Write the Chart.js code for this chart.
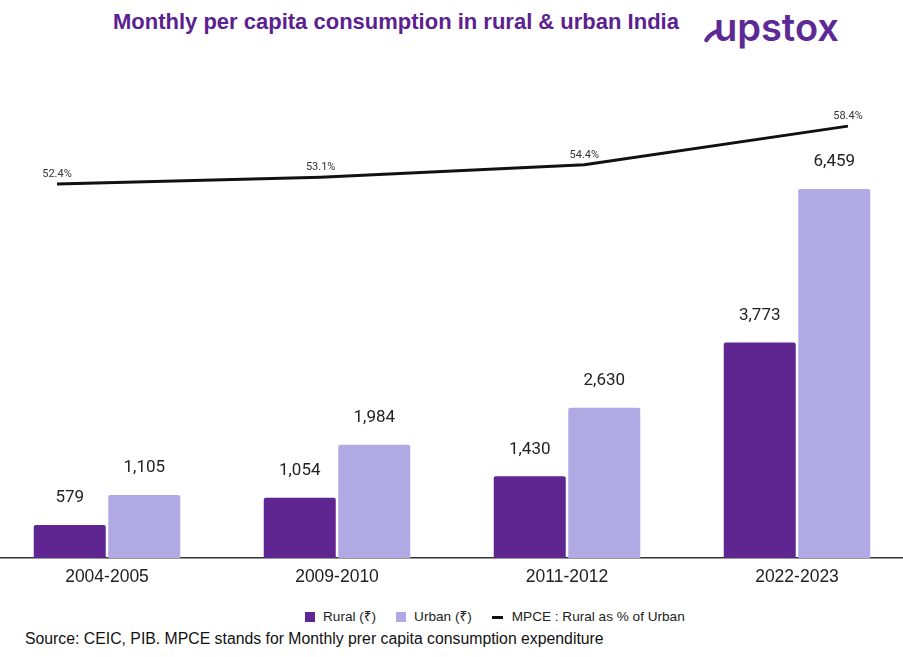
<!DOCTYPE html>
<html>
<head>
<meta charset="utf-8">
<script src="https://cdn.jsdelivr.net/npm/chart.js@4.4.1/dist/chart.umd.min.js"></script>
<style>
  html, body { margin:0; padding:0; background:#fff; width:903px; height:657px; overflow:hidden; position:relative; }
  .wrap { position:absolute; left:-8px; top:0; width:920px; }
  #title { position:absolute; left:113px; top:11px; font: bold 22px "Liberation Sans", Arial, sans-serif; line-height:22px; color:#5c2190; white-space:nowrap; }
  #logo { position:absolute; left:704px; top:5px; width:150px; height:56px; }
  #logo span { position:absolute; left:10px; top:0px; font: 600 38px "Inter", sans-serif; line-height:44px; color:#5d2a95; letter-spacing:0px; }
  #legend { position:absolute; left:305px; top:610px; display:flex; align-items:center; font: 13.6px "Liberation Sans", "Noto Sans", sans-serif; line-height:14px; color:#222; white-space:nowrap; }
  #legend .sw { width:10px; height:10px; margin-right:8px; }
  #legend .ln { width:11px; height:3px; background:#111; margin-right:9px; }
  #legend .item { display:flex; align-items:center; margin-right:20px; }
  #source { position:absolute; left:25px; top:631px; font: 15.8px "Liberation Sans", Arial, sans-serif; line-height:16px; color:#111; white-space:nowrap; }
</style>
</head>
<body>
<div id="title">Monthly per capita consumption in rural &amp; urban India</div>
<div id="logo">
  <svg width="20" height="56" style="position:absolute;left:0;top:0">
    <path d="M 2.5 35 Q 6 29 12.5 26.5" stroke="#5d2a95" stroke-width="4.4" fill="none" stroke-linecap="round"/>
  </svg>
  <span>upstox</span>
</div>
<div class="wrap" style="height:598px"><canvas id="bars" width="920" height="598"></canvas></div>
<div class="wrap" style="height:558px"><canvas id="line" width="920" height="558"></canvas></div>
<div id="legend"></div>
<div id="source">Source: CEIC, PIB. MPCE stands for Monthly prer capita consumption expenditure</div>
<script>
const categories = ['2004-2005', '2009-2010', '2011-2012', '2022-2023'];
const ruralValues = [579, 1054, 1430, 3773];
const urbanValues = [1105, 1984, 2630, 6459];
const ruralShareOfUrban = [52.4, 53.1, 54.4, 58.4];
const seriesNames = ['Rural (₹)', 'Urban (₹)', 'MPCE : Rural as % of Urban'];

const RURAL = '#5f2590';
const URBAN = '#b1a9e4';
const LINE = '#111111';

const legendEl = document.getElementById('legend');
[[seriesNames[0], RURAL, 'sw'], [seriesNames[1], URBAN, 'sw'], [seriesNames[2], LINE, 'ln']].forEach(([name, col, cls]) => {
  const it = document.createElement('div'); it.className = 'item';
  const s = document.createElement('div'); s.className = cls; s.style.background = col;
  const t = document.createElement('span'); t.textContent = name;
  it.appendChild(s); it.appendChild(t); legendEl.appendChild(it);
});

const barLabelPlugin = {
  id: 'barLabels',
  afterDatasetsDraw(chart) {
    const ctx = chart.ctx;
    ctx.save();
    ctx.textAlign = 'center';
    ctx.textBaseline = 'middle';
    ctx.font = '17px Roboto, "Liberation Sans", sans-serif';
    ctx.fillStyle = '#222';
    chart.data.datasets.forEach((ds, di) => {
      chart.getDatasetMeta(di).data.forEach((bar, i) => {
        ctx.fillText(ds.data[i].toLocaleString('en-US'), bar.x, bar.y - 27);
      });
    });
    ctx.restore();
  }
};

const lineLabelPlugin = {
  id: 'lineLabels',
  afterDatasetsDraw(chart) {
    const ctx = chart.ctx;
    ctx.save();
    ctx.textAlign = 'center';
    ctx.textBaseline = 'middle';
    ctx.font = '11px Roboto, "Liberation Sans", sans-serif';
    ctx.fillStyle = '#333';
    chart.getDatasetMeta(0).data.forEach((pt, i) => {
      ctx.fillText(ruralShareOfUrban[i].toFixed(1) + '%', pt.x, pt.y - 10);
    });
    ctx.restore();
  }
};

// Bars chart
new Chart(document.getElementById('bars'), {
  type: 'bar',
  data: {
    labels: categories,
    datasets: [
      { label: seriesNames[0], data: ruralValues, backgroundColor: RURAL, borderRadius: 2,
        categoryPercentage: 0.648, barPercentage: 0.966 },
      { label: seriesNames[1], data: urbanValues, backgroundColor: URBAN, borderRadius: 2,
        categoryPercentage: 0.648, barPercentage: 0.966 }
    ]
  },
  options: {
    responsive: false,
    animation: false,
    devicePixelRatio: 1,
    layout: { padding: { top: 101, left: 0, right: 0, bottom: 0 } },
    plugins: { legend: { display: false }, title: { display: false }, tooltip: { enabled: false } },
    scales: {
      x: {
        type: 'category', offset: true,
        grid: { display: false, drawTicks: false },
        border: { display: true, color: '#333', width: 1.5 },
        ticks: { color: '#222', padding: 9, font: { size: 17.5, family: '"Liberation Sans", Arial, sans-serif' } },
        afterFit: s => { s.height = 40; }
      },
      y: { display: false, min: 0, max: 8000 }
    }
  },
  plugins: [barLabelPlugin]
});

// Ratio line chart, overlaid on the same plot area
new Chart(document.getElementById('line'), {
  type: 'line',
  data: {
    datasets: [
      { label: seriesNames[2], data: ruralShareOfUrban.map((v, i) => ({ x: i, y: v })),
        borderColor: LINE, borderWidth: 3, pointRadius: 0, tension: 0, fill: false }
    ]
  },
  options: {
    responsive: false,
    animation: false,
    devicePixelRatio: 1,
    layout: { padding: { top: 101, left: 0, right: 0, bottom: 0 } },
    plugins: { legend: { display: false }, title: { display: false }, tooltip: { enabled: false } },
    scales: {
      x: { type: 'linear', display: false, min: -0.2465, max: 3.2428 },
      y: { type: 'linear', display: false, min: 13.7, max: 61.0 }
    }
  },
  plugins: [lineLabelPlugin]
});
</script>
</body>
</html>
